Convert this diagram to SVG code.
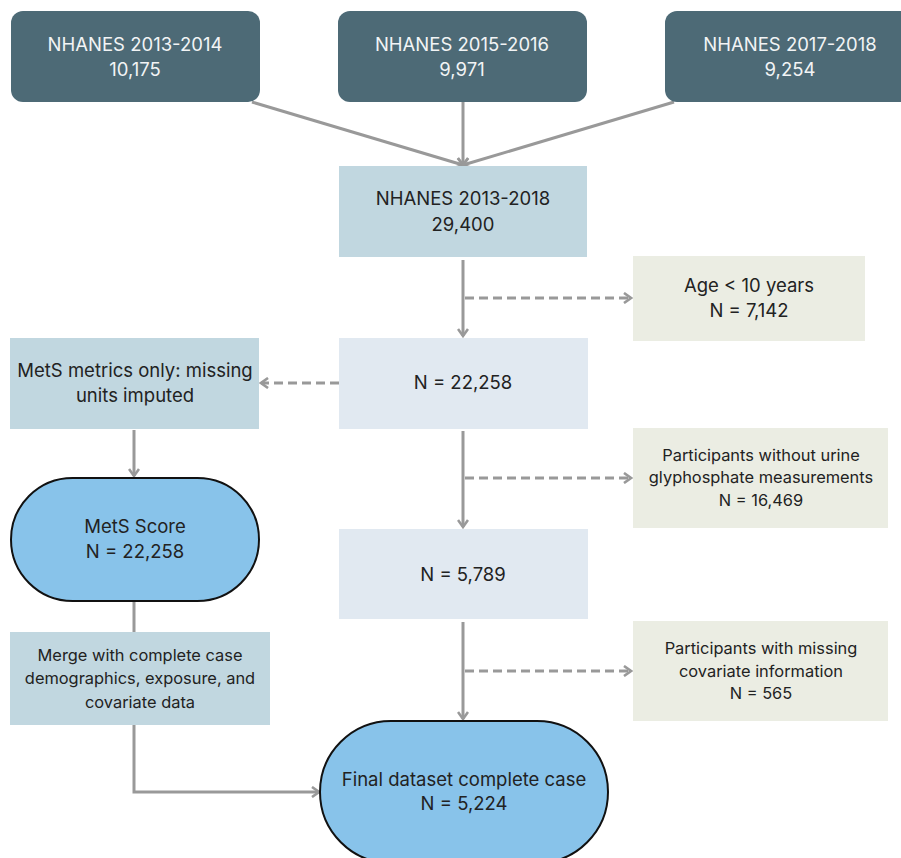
<svg xmlns="http://www.w3.org/2000/svg" width="901" height="858" viewBox="0 0 901 858">
<style>
text{font-family:Inter,"Noto Sans","Liberation Sans",sans-serif;font-size:18.5px;text-anchor:middle;fill:#222}
.dark{fill:#4d6a76}
.wt{fill:#f2f4f5}
.mid{fill:#c1d7e0}
.pale{fill:#e1e9f1}
.ex{fill:#ebede3}
.stad{fill:#88c3ea;stroke:#111;stroke-width:2}
.sm{font-size:16.4px}
.c{fill:none;stroke:#999;stroke-width:3}
.d{fill:none;stroke:#999;stroke-width:3;stroke-dasharray:9 5}
</style>
<defs>
<marker id="ah" viewBox="0 0 12 12" refX="10" refY="6" markerWidth="12" markerHeight="12" markerUnits="userSpaceOnUse" orient="auto">
<path d="M3,1 L10,6 L3,11" fill="none" stroke="#999" stroke-width="2.6"/>
</marker>
</defs>
<g id="connectors">
<path class="c" d="M252,102 L463,165" marker-end="url(#ah)"/>
<path class="c" d="M463,102 L463,165" marker-end="url(#ah)"/>
<path class="c" d="M674,102 L463,165" marker-end="url(#ah)"/>
<path class="c" d="M463,260 L463,336" marker-end="url(#ah)"/>
<path class="d" d="M465,298 L631,298" marker-end="url(#ah)"/>
<path class="d" d="M339,383 L261,383" marker-end="url(#ah)"/>
<path class="c" d="M134,430 L134,476" marker-end="url(#ah)"/>
<path class="c" d="M463,431 L463,527" marker-end="url(#ah)"/>
<path class="d" d="M465,478 L631,478" marker-end="url(#ah)"/>
<path class="c" d="M134,602 L134,632"/>
<path class="c" d="M463,622 L463,719" marker-end="url(#ah)"/>
<path class="d" d="M465,671 L631,671" marker-end="url(#ah)"/>
<path class="c" d="M134,725 L134,792 L319,792" marker-end="url(#ah)"/>
</g>
<g id="n1"><rect class="dark" x="11" y="11" width="249" height="91" rx="12"/><text class="wt" x="135" y="51">NHANES 2013-2014</text><text class="wt" x="135" y="76">10,175</text></g>
<g id="n2"><rect class="dark" x="338" y="11" width="249" height="91" rx="12"/><text class="wt" x="462" y="51">NHANES 2015-2016</text><text class="wt" x="462" y="76">9,971</text></g>
<g id="n3"><rect class="dark" x="665" y="11" width="249" height="91" rx="12"/><text class="wt" x="790" y="51">NHANES 2017-2018</text><text class="wt" x="790" y="76">9,254</text></g>
<g id="n4"><rect class="mid" x="339" y="166" width="248" height="91"/><text x="463" y="205">NHANES 2013-2018</text><text x="463" y="231">29,400</text></g>
<g id="n5"><rect class="ex" x="633" y="256" width="232" height="85"/><text x="749" y="292">Age &lt; 10 years</text><text x="749" y="317">N = 7,142</text></g>
<g id="n6"><rect class="pale" x="339" y="338" width="249" height="91"/><text x="463" y="389">N = 22,258</text></g>
<g id="n7"><rect class="mid" x="10" y="338" width="249" height="91"/><text x="135" y="377">MetS metrics only: missing</text><text x="135" y="402">units imputed</text></g>
<g id="n8"><rect class="stad" x="11" y="478" width="248" height="123" rx="61.5"/><text x="135" y="533">MetS Score</text><text x="135" y="558">N = 22,258</text></g>
<g id="n9"><rect class="ex" x="633" y="428" width="255" height="100"/><text class="sm" x="761" y="461">Participants without urine</text><text class="sm" x="761" y="483">glyphosphate measurements</text><text class="sm" x="761" y="506">N = 16,469</text></g>
<g id="n10"><rect class="pale" x="339" y="529" width="249" height="90"/><text x="463" y="581">N = 5,789</text></g>
<g id="n11"><rect class="mid" x="10" y="632" width="260" height="93"/><text class="sm" x="140" y="661">Merge with complete case</text><text class="sm" x="140" y="684">demographics, exposure, and</text><text class="sm" x="140" y="708">covariate data</text></g>
<g id="n12"><rect class="ex" x="633" y="621" width="255" height="100"/><text class="sm" x="761" y="654">Participants with missing</text><text class="sm" x="761" y="677">covariate information</text><text class="sm" x="761" y="699">N = 565</text></g>
<g id="n13"><rect class="stad" x="320" y="721" width="288" height="142" rx="71"/><text x="464" y="786">Final dataset complete case</text><text x="464" y="810">N = 5,224</text></g>
</svg>
